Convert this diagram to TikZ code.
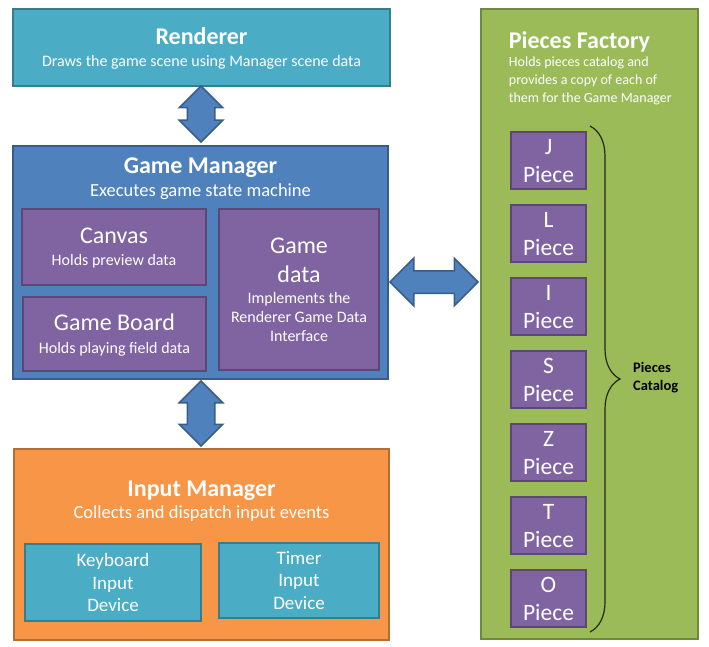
\documentclass[tikz,border=0pt]{standalone}
\usepackage{fontspec}
\setmainfont{Carlito}
\usetikzlibrary{positioning,shapes.arrows,decorations.pathreplacing}

\definecolor{rendfill}{HTML}{4BACC6}
\definecolor{renddraw}{HTML}{357D91}
\definecolor{gmfill}{HTML}{4F81BD}
\definecolor{gmdraw}{HTML}{385D8A}
\definecolor{pcfill}{HTML}{8064A2}
\definecolor{pcdraw}{HTML}{5C4776}
\definecolor{imfill}{HTML}{F79646}
\definecolor{imdraw}{HTML}{B66D31}
\definecolor{pffill}{HTML}{9BBB59}
\definecolor{pfdraw}{HTML}{71893F}

\newcommand{\bigtitle}{\fontsize{24}{26}\selectfont\bfseries}
\newcommand{\midtitle}{\fontsize{24}{26}\selectfont}

\tikzset{
  box/.style={rectangle, line width=2.5pt, text=white, align=center, inner sep=0pt},
  tealbox/.style={box, fill=rendfill, draw=renddraw},
  bluebox/.style={box, fill=gmfill, draw=gmdraw},
  purplebox/.style={box, fill=pcfill, draw=pcdraw, text depth=-7pt},
  orangebox/.style={box, fill=imfill, draw=imdraw},
  greenbox/.style={box, fill=pffill, draw=pfdraw},
  boxtext/.style={text=white, inner sep=0pt},
  dblarrow/.style={double arrow, fill=gmfill, draw=gmdraw, line width=1.5pt,
    double arrow tip angle=90, inner xsep=0pt},
}

\begin{document}
\begin{tikzpicture}[x=1pt, y=-1pt]
  \useasboundingbox (0,0) rectangle (709,647);

  % renderer
  \node[tealbox, minimum width=377, minimum height=77, text depth=-6pt,
    font=\fontsize{16}{22}\selectfont] (renderer) at (201.5,47.5)
    {{\bigtitle Renderer}\\Draws the game scene using Manager scene data};

  % game manager
  \node[bluebox, minimum width=375, minimum height=233] (gm) at (200.5,262.5) {};
  \node[boxtext, align=center, below=13pt of gm.north,
    font=\fontsize{18.5}{23}\selectfont] (gmtitle)
    {{\bigtitle Game Manager}\\Executes game state machine};
  \node[purplebox, minimum width=184, minimum height=76,
    font=\fontsize{16}{22}\selectfont] (canvas) at (114,247)
    {{\midtitle Canvas}\\Holds preview data};
  \node[purplebox, minimum width=183, minimum height=74,
    font=\fontsize{16}{23}\selectfont] (board) at (114.5,334)
    {{\midtitle Game Board}\\Holds playing field data};
  \node[purplebox, minimum width=160, minimum height=161, text depth=-4pt,
    font=\fontsize{16}{19}\selectfont] (gmdata) at (299,289.5)
    {{\midtitle Game}\\[10pt]{\midtitle data}\\[2pt]Implements the\\Renderer Game Data\\Interface};

  % input manager
  \node[orangebox, minimum width=375, minimum height=191] (im) at (201.5,544.5) {};
  \node[boxtext, align=center, below=33pt of im.north,
    font=\fontsize{18.5}{22}\selectfont] (imtitle)
    {{\bigtitle Input Manager}\\Collects and dispatch input events};
  \node[tealbox, minimum width=176, minimum height=77,
    font=\fontsize{19}{22.5}\selectfont] (keyboard) at (113,582.5)
    {Keyboard\\Input\\Device};
  \node[tealbox, minimum width=160, minimum height=75,
    font=\fontsize{19}{22.5}\selectfont] (timer) at (299,580.5)
    {Timer\\Input\\Device};

  % pieces factory
  \node[greenbox, minimum width=217, minimum height=630] (pf) at (589.5,324) {};
  \node[boxtext, align=left, anchor=north west, below right=24pt and 29pt of pf.north west,
    font=\fontsize{14}{18}\selectfont] (pftitle)
    {{\bigtitle Pieces Factory}\\Holds pieces catalog and\\provides a copy of each of\\them for the Game Manager};
  \foreach \p [count=\i from 0] in {J,L,I,S,Z,T,O}
    \node[purplebox, minimum width=75, minimum height=57,
      font=\fontsize{23.5}{28}\selectfont] (piece\p) at (548.5,160.5+73*\i) {\p\\Piece};

  \coordinate (bracetop) at (590,126);
  \coordinate (bracebot) at (590,632);
  \draw[decorate, decoration={brace, amplitude=30pt}, line width=1.2pt,
    black!70!pfdraw] (bracetop) -- (bracebot);
  \node[anchor=west, align=left, inner sep=0pt,
    font=\fontsize{14.5}{18}\selectfont\bfseries] (catalog) at (633,378)
    {Pieces\\Catalog};

  % arrows
  \node[dblarrow, rotate=90, minimum height=56, inner ysep=13pt,
    double arrow head extend=8] (arrrend) at (201,114) {};
  \node[dblarrow, rotate=90, minimum height=65, inner ysep=13pt,
    double arrow head extend=8] (arrinput) at (201,413.5) {};
  \node[dblarrow, minimum height=88, inner ysep=10.5pt,
    double arrow head extend=12.5] (arrpieces) at (434,282) {};
\end{tikzpicture}
\end{document}
